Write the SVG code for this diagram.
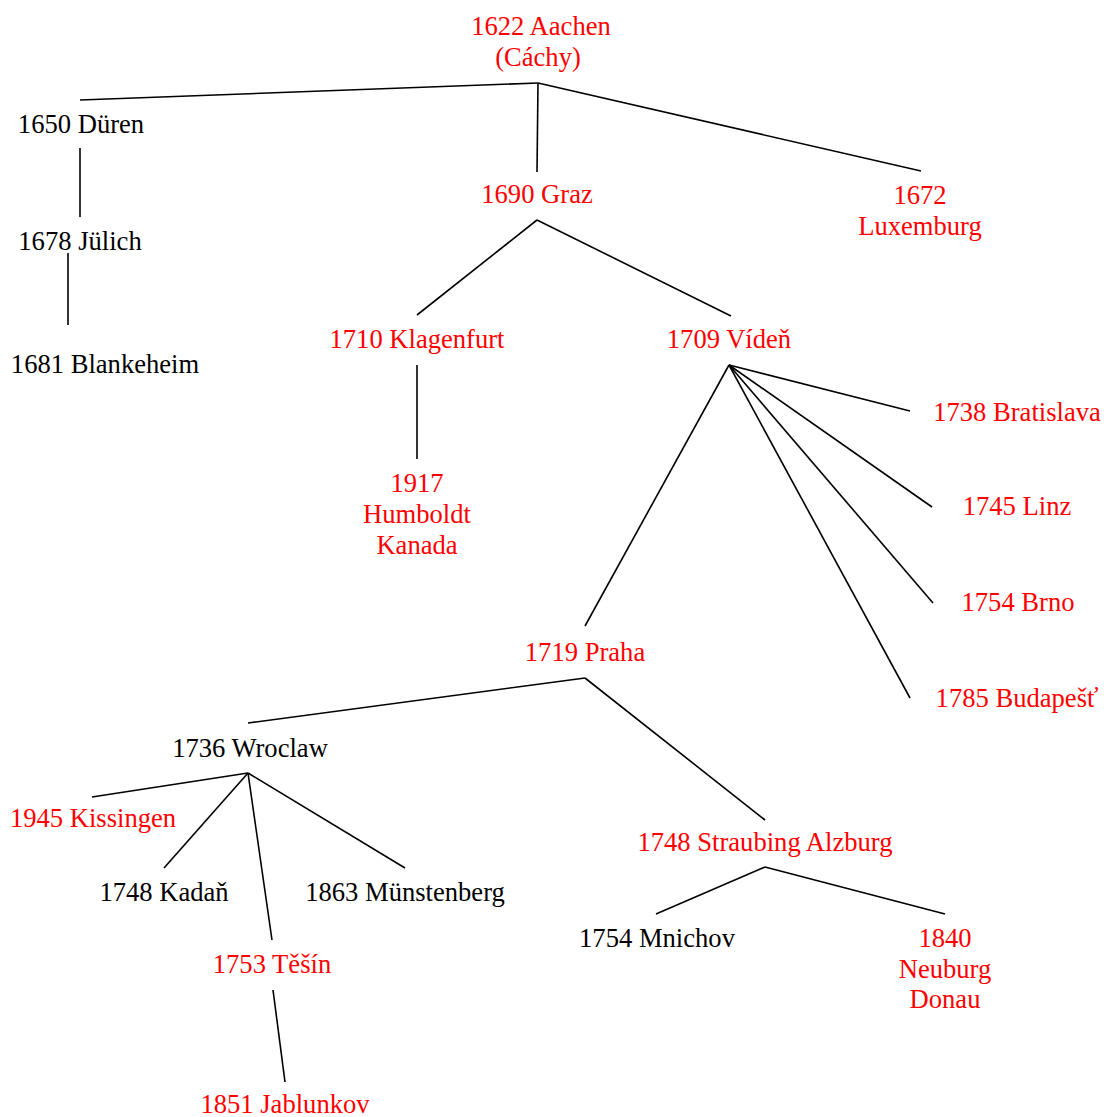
<svg xmlns="http://www.w3.org/2000/svg" width="1104" height="1117" viewBox="0 0 1104 1117">
<style>
text{font-family:"Liberation Serif","Times New Roman",serif;font-size:26.6px;text-anchor:middle}
.r{fill:#ff0000}
.k{fill:#000000}
#edges line{stroke:#000;stroke-width:1.6}
</style>
<rect width="1104" height="1117" fill="#fff"/>
<g id="edges">
<line x1="538" y1="83" x2="80" y2="100"/>
<line x1="538" y1="83" x2="537" y2="172"/>
<line x1="538" y1="83" x2="921" y2="171"/>
<line x1="80" y1="148" x2="80" y2="217"/>
<line x1="68" y1="253" x2="68" y2="325"/>
<line x1="537" y1="220" x2="417" y2="315"/>
<line x1="537" y1="220" x2="731" y2="316"/>
<line x1="417" y1="365" x2="417" y2="459"/>
<line x1="729" y1="365" x2="910" y2="411"/>
<line x1="729" y1="365" x2="932" y2="507"/>
<line x1="729" y1="365" x2="933" y2="603"/>
<line x1="729" y1="365" x2="910" y2="698"/>
<line x1="729" y1="365" x2="585" y2="626"/>
<line x1="585" y1="678" x2="248" y2="723"/>
<line x1="585" y1="678" x2="765" y2="820"/>
<line x1="248" y1="773" x2="92" y2="797"/>
<line x1="248" y1="773" x2="164" y2="868"/>
<line x1="248" y1="773" x2="405" y2="868"/>
<line x1="248" y1="773" x2="272" y2="940"/>
<line x1="273" y1="990" x2="285" y2="1082"/>
<line x1="765" y1="867" x2="656" y2="914"/>
<line x1="765" y1="867" x2="945" y2="914"/>
</g>
<g id="n1622"><text class="r" x="541" y="35">1622 Aachen</text><text class="r" x="538" y="66">(Cáchy)</text></g>
<g id="n1650"><text class="k" x="81" y="133">1650 Düren</text></g>
<g id="n1678"><text class="k" x="80" y="250">1678 Jülich</text></g>
<g id="n1681"><text class="k" x="105" y="373">1681 Blankeheim</text></g>
<g id="n1690"><text class="r" x="537" y="203">1690 Graz</text></g>
<g id="n1672"><text class="r" x="920" y="204">1672</text><text class="r" x="920" y="235">Luxemburg</text></g>
<g id="n1710"><text class="r" x="417" y="348">1710 Klagenfurt</text></g>
<g id="n1709"><text class="r" x="729" y="348">1709 Vídeň</text></g>
<g id="n1917"><text class="r" x="417" y="492">1917</text><text class="r" x="417" y="523">Humboldt</text><text class="r" x="417" y="554">Kanada</text></g>
<g id="n1738"><text class="r" x="1017" y="421">1738 Bratislava</text></g>
<g id="n1745"><text class="r" x="1017" y="515">1745 Linz</text></g>
<g id="n1754b"><text class="r" x="1018" y="611">1754 Brno</text></g>
<g id="n1785"><text class="r" x="1017" y="707">1785 Budapešť</text></g>
<g id="n1719"><text class="r" x="585" y="661">1719 Praha</text></g>
<g id="n1736"><text class="k" x="250" y="757">1736 Wroclaw</text></g>
<g id="n1945"><text class="r" x="93" y="827">1945 Kissingen</text></g>
<g id="n1748k"><text class="k" x="164" y="901">1748 Kadaň</text></g>
<g id="n1863"><text class="k" x="405" y="901">1863 Münstenberg</text></g>
<g id="n1753"><text class="r" x="272" y="973">1753 Těšín</text></g>
<g id="n1851"><text class="r" x="285" y="1113">1851 Jablunkov</text></g>
<g id="n1748s"><text class="r" x="765" y="851">1748 Straubing Alzburg</text></g>
<g id="n1754m"><text class="k" x="657" y="947">1754 Mnichov</text></g>
<g id="n1840"><text class="r" x="945" y="947">1840</text><text class="r" x="945" y="978">Neuburg</text><text class="r" x="945" y="1008">Donau</text></g>
</svg>
